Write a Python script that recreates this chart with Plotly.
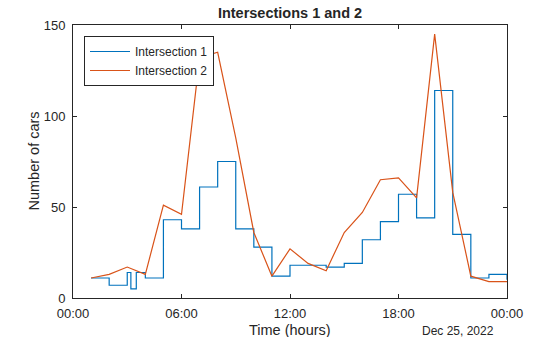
import pandas as pd
import plotly.graph_objects as go

# Hourly traffic counts on Dec 25, 2022
day = "2022-12-25"

times1 = ["01:00", "02:00", "03:00", "03:12", "03:30", "04:00", "05:00", "06:00",
          "07:00", "08:00", "09:00", "10:00", "11:00", "12:00", "13:00", "14:00",
          "15:00", "16:00", "17:00", "18:00", "19:00", "20:00", "21:00", "22:00",
          "23:00", "24:00"]
cars1 = [11, 7, 14, 5, 14, 11, 43, 38, 61, 75, 38, 28, 12, 18, 18, 17, 19, 32,
         42, 57, 44, 114, 35, 11, 13, 10]

times2 = ["01:00", "02:00", "03:00", "04:00", "05:00", "06:00", "07:00", "08:00",
          "09:00", "10:00", "11:00", "12:00", "13:00", "14:00", "15:00", "16:00",
          "17:00", "18:00", "19:00", "20:00", "21:00", "22:00", "23:00", "24:00"]
cars2 = [11, 13, 17, 13, 51, 46, 132, 135, 88, 36, 12, 27, 19, 15, 36, 47, 65,
         66, 55, 145, 58, 12, 9, 9]

xticks = ["00:00", "06:00", "12:00", "18:00", "24:00"]
yticks = [0, 50, 100, 150]


def to_datetime(hhmm):
    h, m = hhmm.split(":")
    return pd.Timestamp(day) + pd.Timedelta(hours=int(h), minutes=int(m))


x1 = [to_datetime(t) for t in times1]
x2 = [to_datetime(t) for t in times2]
xt = [to_datetime(t) for t in xticks]

BLUE = "#0072BD"
ORANGE = "#D95319"
INK = "#262626"
FONT = "Liberation Sans, Arial, Helvetica, sans-serif"

W, H = 560, 337
L, R, T, B = 73, 53, 25, 39
pw = W - L - R
ph = H - T - B

fig = go.Figure()
fig.add_trace(go.Scatter(x=x1, y=cars1, mode="lines", name="Intersection 1",
                         line=dict(color=BLUE, width=1.2, shape="hv")))
fig.add_trace(go.Scatter(x=x2, y=cars2, mode="lines", name="Intersection 2",
                         line=dict(color=ORANGE, width=1.2)))

axis_common = dict(
    showline=True, linecolor=INK, linewidth=1, mirror="ticks",
    ticks="inside", ticklen=4, tickcolor=INK, tickwidth=1,
    showgrid=False, zeroline=False, automargin=False,
    tickfont=dict(family=FONT, size=13, color=INK),
)

fig.update_xaxes(
    range=[xt[0], xt[-1]],
    tickmode="array", tickvals=xt, ticktext=[t.strftime("%H:%M") for t in xt],
    ticklabelstandoff=3,
    **axis_common,
)
fig.update_yaxes(
    range=[0, 150], tickmode="array", tickvals=yticks,
    ticklabelstandoff=4,
    **axis_common,
)

# axis titles and the date label placed in paper coordinates
label_font = dict(family=FONT, size=14.5, color=INK)
fig.add_annotation(
    text="Time (hours)", xref="paper", yref="paper",
    x=0.5, y=-(330 - (H - B)) / ph, xanchor="center", yanchor="middle",
    showarrow=False, font=label_font,
)
fig.add_annotation(
    text="Number of cars", xref="paper", yref="paper", textangle=-90,
    x=-(L - 33) / pw, y=0.5, xanchor="center", yanchor="middle",
    showarrow=False, font=label_font,
)
fig.add_annotation(
    text=pd.Timestamp(day).strftime("%b %d, %Y").replace(" 0", " "),
    xref="paper", yref="paper",
    x=(496 - L) / pw, y=-(331 - (H - B)) / ph,
    xanchor="right", yanchor="middle", showarrow=False,
    font=dict(family=FONT, size=12, color=INK),
)

fig.update_layout(
    width=W, height=H,
    margin=dict(l=L, r=R, t=T, b=B, pad=0),
    paper_bgcolor="white", plot_bgcolor="white",
    title=dict(text="<b>Intersections 1 and 2</b>", x=0.5, xref="paper",
               y=1 - 12.5 / H, yanchor="middle", automargin=False,
               font=dict(family=FONT, size=14.5, color=INK)),
    legend=dict(
        x=(84 - L) / pw, y=(H - B - 36) / ph, xanchor="left", yanchor="top",
        bgcolor="white", bordercolor=INK, borderwidth=1,
        font=dict(family=FONT, size=12, color=INK),
        itemwidth=40, tracegroupgap=0,
    ),
    showlegend=True,
)

fig.write_html("out.html")
